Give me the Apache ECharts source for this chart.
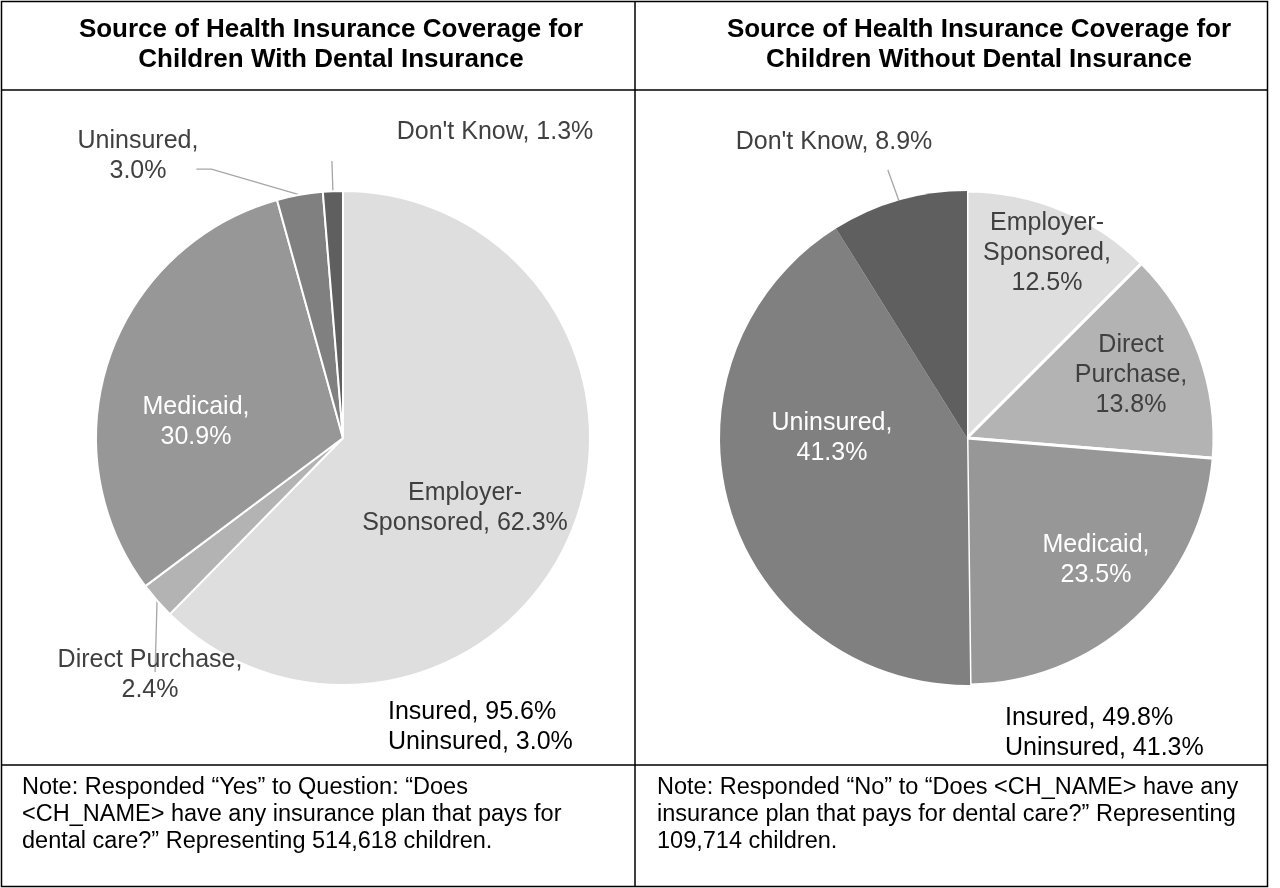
<!DOCTYPE html>
<html>
<head>
<meta charset="utf-8">
<script src="https://cdn.jsdelivr.net/npm/echarts@6/dist/echarts.min.js"></script>
<style>
  html, body { margin: 0; padding: 0; background: #ffffff; }
  #chart { width: 1280px; height: 888px; }
</style>
</head>
<body>
<div id="chart"></div>
<script>
// Coverage source categories, in clockwise order from 12 o'clock
const categories = ['Employer-Sponsored', 'Direct Purchase', 'Medicaid', 'Uninsured', "Don't Know"];

// Percent of children by coverage source
const withDental = [62.3, 2.4, 30.9, 3.0, 1.3];
const withoutDental = [12.5, 13.8, 23.5, 41.3, 8.9];

// Slice label wording (line breaks as printed)
const withDentalLabels = ['Employer-\nSponsored, {v}%', 'Direct Purchase,\n{v}%', 'Medicaid,\n{v}%', 'Uninsured,\n{v}%', "Don't Know, {v}%"];
const withoutDentalLabels = ['Employer-\nSponsored,\n{v}%', 'Direct\nPurchase,\n{v}%', 'Medicaid,\n{v}%', 'Uninsured,\n{v}%', "Don't Know, {v}%"];

// Panel texts
const panelTitles = [
  'Source of Health Insurance Coverage for\nChildren With Dental Insurance',
  'Source of Health Insurance Coverage for\nChildren Without Dental Insurance'
];
const panelNotes = [
  'Note: Responded \u201cYes\u201d to Question: \u201cDoes\n<CH_NAME> have any insurance plan that pays for\ndental care?\u201d Representing 514,618 children.',
  'Note: Responded \u201cNo\u201d to \u201cDoes <CH_NAME> have any\ninsurance plan that pays for dental care?\u201d Representing\n109,714 children.'
];
const summaries = [
  ['Insured, 95.6%', 'Uninsured, 3.0%'],
  ['Insured, 49.8%', 'Uninsured, 41.3%']
];

// Styling
const sliceColors = ['#dedede', '#b3b3b3', '#979797', '#808080', '#5f5f5f'];
const darkText = '#404040';
const lightText = '#ffffff';
const FONT = '"Liberation Sans", Arial, sans-serif';

// Label placement: which slices carry their label inside, and text colour
const leftInside = [true, false, true, false, false];
const rightInside = [true, true, true, true, false];
const leftLight = [false, false, true, false, false];
const rightLight = [false, false, true, true, false];

// Label centres in the page
const leftLabelPos = [[465, 508], [150, 675], [196, 422], [138, 156], [495, 132]];
const rightLabelPos = [[1047, 253], [1131, 375], [1096, 560], [832, 438], [834, 142]];

// Leader-line shapes for the outside labels:
//  'up'    – straight up from the slice edge to just under the label
//  'down'  – straight down from the slice edge into the label
//  'elbow' – diagonal to the label's side, then a short horizontal tail
const leftLeader = [null, 'down', null, 'elbow', 'up'];
const rightLeader = [null, null, null, null, 'upLeft'];

// Slice borders (right panel: the uninsured / don't-know wedge sits flush)
const leftBorder = [2, 2, 2, 2, 2];
const rightBorder = [3, 3, 3, 0, 0];

function buildData(values, labels, inside, light, borders) {
  return values.map(function (v, i) {
    return {
      name: categories[i],
      value: v,
      itemStyle: { color: sliceColors[i], borderColor: '#ffffff', borderWidth: borders[i] },
      label: {
        show: true,
        position: inside[i] ? 'inside' : 'outside',
        formatter: labels[i].replace('{v}', v.toFixed(1)),
        color: light[i] ? lightText : darkText
      },
      labelLine: { show: !inside[i] }
    };
  });
}

function leaderPoints(kind, start, rect) {
  const x0 = start[0], y0 = start[1];
  if (kind === 'up') {
    return [[x0, y0], [x0 - 1, rect.y + rect.height + 14]];
  }
  if (kind === 'upLeft') {
    return [[x0, y0], [x0 - 11, rect.y + rect.height + 13]];
  }
  if (kind === 'down') {
    return [[x0, y0], [x0 - 2, rect.y + rect.height * 0.45]];
  }
  if (kind === 'elbow') {
    const yLine = rect.y + rect.height * 0.72;
    const xEnd = rect.x + rect.width - 2;
    return [[x0, y0], [xEnd + 15, yLine], [xEnd, yLine]];
  }
  return null;
}

function makePie(values, labels, inside, light, borders, center, positions, leaders) {
  return {
    type: 'pie',
    center: center,
    radius: 247,
    startAngle: 90,
    clockwise: true,
    silent: true,
    avoidLabelOverlap: false,
    label: {
      fontFamily: FONT,
      fontSize: 25,
      lineHeight: 30,
      align: 'center'
    },
    labelLine: {
      length: 12,
      length2: 14,
      lineStyle: { color: '#a6a6a6', width: 1.3 }
    },
    labelLayout: function (params) {
      const i = params.dataIndex;
      const p = positions[i];
      const out = { x: p[0], y: p[1], align: 'center', verticalAlign: 'middle' };
      const kind = leaders[i];
      if (kind && params.labelLinePoints) {
        const w = params.labelRect.width, h = params.labelRect.height;
        const rect = { x: p[0] - w / 2, y: p[1] - h / 2, width: w, height: h };
        out.labelLinePoints = leaderPoints(kind, params.labelLinePoints[0], rect);
      }
      return out;
    },
    data: buildData(values, labels, inside, light, borders)
  };
}

const chart = echarts.init(document.getElementById('chart'), null, { renderer: 'canvas' });

const lineStyle = { stroke: '#000000', lineWidth: 1.5 };

chart.setOption({
  backgroundColor: '#ffffff',
  animation: false,
  title: [
    {
      text: panelTitles[0], left: 326, top: 10, textAlign: 'center',
      textStyle: { fontFamily: FONT, fontSize: 26, fontWeight: 'bold', color: '#000000', lineHeight: 30 }
    },
    {
      text: panelTitles[1], left: 974, top: 10, textAlign: 'center',
      textStyle: { fontFamily: FONT, fontSize: 26, fontWeight: 'bold', color: '#000000', lineHeight: 30 }
    }
  ],
  graphic: [
    // table frame
    { type: 'rect', shape: { x: 1.5, y: 1.5, width: 1266, height: 885 }, style: { fill: null, stroke: '#000000', lineWidth: 1.5 }, silent: true },
    { type: 'line', shape: { x1: 635, y1: 1, x2: 635, y2: 887 }, style: lineStyle, silent: true },
    { type: 'line', shape: { x1: 1, y1: 90, x2: 1268, y2: 90 }, style: lineStyle, silent: true },
    { type: 'line', shape: { x1: 1, y1: 765, x2: 1268, y2: 765 }, style: lineStyle, silent: true },
    // insured / uninsured summaries
    { type: 'text', x: 388, y: 697, style: { text: summaries[0].join('\n'), font: '25px ' + FONT, lineHeight: 30, fill: '#000000' }, silent: true },
    { type: 'text', x: 1005, y: 703, style: { text: summaries[1].join('\n'), font: '25px ' + FONT, lineHeight: 30, fill: '#000000' }, silent: true },
    // notes
    { type: 'text', x: 22, y: 774, style: { text: panelNotes[0], font: '23.5px ' + FONT, lineHeight: 27, fill: '#000000' }, silent: true },
    { type: 'text', x: 657, y: 774, style: { text: panelNotes[1], font: '23.5px ' + FONT, lineHeight: 27, fill: '#000000' }, silent: true }
  ],
  series: [
    makePie(withDental, withDentalLabels, leftInside, leftLight, leftBorder, [343, 438], leftLabelPos, leftLeader),
    makePie(withoutDental, withoutDentalLabels, rightInside, rightLight, rightBorder, [967, 438], rightLabelPos, rightLeader)
  ]
});
</script>
</body>
</html>
